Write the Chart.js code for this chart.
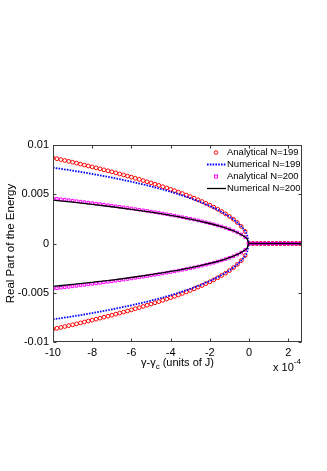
<!DOCTYPE html>
<html>
<head>
<meta charset="utf-8">
<script src="https://cdn.jsdelivr.net/npm/chart.js@4.4.0/dist/chart.umd.min.js"></script>
<style>
  html, body { margin: 0; padding: 0; background: #fff; }
  canvas { display: block; }
</style>
</head>
<body>
<canvas id="chart" width="327" height="471"></canvas>
<script>
// x values (units of 1e-4 J) for the analytical markers
const xAnalytical = [-10, -9.8, -9.6, -9.4, -9.2, -9, -8.8, -8.6, -8.4, -8.2, -8, -7.8, -7.6, -7.4, -7.2, -7,
  -6.8, -6.6, -6.4, -6.2, -6, -5.8, -5.6, -5.4, -5.2, -5, -4.8, -4.6, -4.4, -4.2, -4, -3.8, -3.6, -3.4, -3.2, -3,
  -2.8, -2.6, -2.4, -2.2, -2, -1.8, -1.6, -1.4, -1.2, -1, -0.8, -0.6, -0.4, -0.2, 0,
  0.2, 0.4, 0.6, 0.8, 1, 1.2, 1.4, 1.6, 1.8, 2, 2.2, 2.4, 2.6];

const analytical199Upper = [0.00870, 0.00861, 0.00852, 0.00843, 0.00834, 0.00825, 0.00816, 0.00806, 0.00797, 0.00787,
  0.00778, 0.00768, 0.00758, 0.00748, 0.00738, 0.00728, 0.00717, 0.00706, 0.00696, 0.00685, 0.00674, 0.00662, 0.00651,
  0.00639, 0.00627, 0.00615, 0.00602, 0.00590, 0.00577, 0.00564, 0.00550, 0.00536, 0.00522, 0.00507, 0.00492, 0.00476,
  0.00460, 0.00443, 0.00426, 0.00408, 0.00389, 0.00369, 0.00348, 0.00325, 0.00301, 0.00275, 0.00246, 0.00213, 0.00174,
  0.00123, 0, 0, 0, 0, 0, 0, 0, 0, 0, 0, 0, 0, 0, 0];
const analytical199Lower = [-0.00870, -0.00861, -0.00852, -0.00843, -0.00834, -0.00825, -0.00816, -0.00806, -0.00797, -0.00787,
  -0.00778, -0.00768, -0.00758, -0.00748, -0.00738, -0.00728, -0.00717, -0.00706, -0.00696, -0.00685, -0.00674, -0.00662, -0.00651,
  -0.00639, -0.00627, -0.00615, -0.00602, -0.00590, -0.00577, -0.00564, -0.00550, -0.00536, -0.00522, -0.00507, -0.00492, -0.00476,
  -0.00460, -0.00443, -0.00426, -0.00408, -0.00389, -0.00369, -0.00348, -0.00325, -0.00301, -0.00275, -0.00246, -0.00213, -0.00174,
  -0.00123, 0, 0, 0, 0, 0, 0, 0, 0, 0, 0, 0, 0, 0, 0];

const analytical200Upper = [0.00459, 0.00454, 0.00449, 0.00445, 0.00440, 0.00435, 0.00430, 0.00425, 0.00420, 0.00415,
  0.00410, 0.00405, 0.00400, 0.00394, 0.00389, 0.00384, 0.00378, 0.00373, 0.00367, 0.00361, 0.00355, 0.00349, 0.00343,
  0.00337, 0.00331, 0.00324, 0.00318, 0.00311, 0.00304, 0.00297, 0.00290, 0.00283, 0.00275, 0.00267, 0.00259, 0.00251,
  0.00243, 0.00234, 0.00225, 0.00215, 0.00205, 0.00195, 0.00183, 0.00172, 0.00159, 0.00145, 0.00130, 0.00112, 0.00092,
  0.00065, 0, 0, 0, 0, 0, 0, 0, 0, 0, 0, 0, 0, 0, 0];
const analytical200Lower = [-0.00459, -0.00454, -0.00449, -0.00445, -0.00440, -0.00435, -0.00430, -0.00425, -0.00420, -0.00415,
  -0.00410, -0.00405, -0.00400, -0.00394, -0.00389, -0.00384, -0.00378, -0.00373, -0.00367, -0.00361, -0.00355, -0.00349, -0.00343,
  -0.00337, -0.00331, -0.00324, -0.00318, -0.00311, -0.00304, -0.00297, -0.00290, -0.00283, -0.00275, -0.00267, -0.00259, -0.00251,
  -0.00243, -0.00234, -0.00225, -0.00215, -0.00205, -0.00195, -0.00183, -0.00172, -0.00159, -0.00145, -0.00130, -0.00112, -0.00092,
  -0.00065, 0, 0, 0, 0, 0, 0, 0, 0, 0, 0, 0, 0, 0, 0];

// numerical curves, sampled more coarsely
const xNumerical = [-10, -9, -8, -7, -6, -5, -4, -3, -2, -1.5, -1, -0.6, -0.3, -0.1, 0, 2.7];
const numerical199Upper = [0.00770, 0.00740, 0.00706, 0.00669, 0.00627, 0.00580, 0.00525, 0.00460, 0.00380, 0.00331,
  0.00272, 0.00212, 0.00150, 0.00087, 0, 0];
const numerical199Lower = [-0.00770, -0.00740, -0.00706, -0.00669, -0.00627, -0.00580, -0.00525, -0.00460, -0.00380, -0.00331,
  -0.00272, -0.00212, -0.00150, -0.00087, 0, 0];
const numerical200Upper = [0.00440, 0.00419, 0.00397, 0.00373, 0.00347, 0.00318, 0.00285, 0.00248, 0.00203, 0.00177,
  0.00144, 0.00112, 0.00079, 0.00046, 0, 0];
const numerical200Lower = [-0.00435, -0.00416, -0.00394, -0.00371, -0.00345, -0.00316, -0.00284, -0.00247, -0.00202, -0.00176,
  -0.00143, -0.00111, -0.00079, -0.00046, 0, 0];

const xTicks = [-10, -8, -6, -4, -2, 0, 2];
const yTicks = [-0.01, -0.005, 0, 0.005, 0.01];
const seriesNames = ['Analytical N=199', 'Numerical N=199', 'Analytical N=200', 'Numerical N=200'];

const FONT = '"Liberation Sans", Arial, sans-serif';

function pairs(xs, ys) {
  return xs.map((x, i) => ({ x: x, y: ys[i] }));
}

// both branches in one line, broken by a gap point
function branches(xs, up, low) {
  return pairs(xs, up).concat([{ x: 0, y: null }], pairs(xs, low));
}

// draws the box, inward ticks, axis titles and the legend
const matlabLook = {
  id: 'matlabLook',
  afterDraw(chart) {
    const ctx = chart.ctx;
    const a = chart.chartArea;
    const xs = chart.scales.x;
    const ys = chart.scales.y;
    const L = Math.round(a.left) + 0.5, R = Math.round(a.right) - 0.5;
    const T = Math.round(a.top) + 0.5, B = Math.round(a.bottom) - 0.5;

    ctx.save();
    ctx.strokeStyle = '#3c3c3c';
    ctx.lineWidth = 1;
    ctx.strokeRect(L, T, R - L, B - T);
    ctx.beginPath();
    xTicks.forEach(v => {
      const px = Math.round(xs.getPixelForValue(v)) + 0.5;
      ctx.moveTo(px, B); ctx.lineTo(px, B - 3);
      ctx.moveTo(px, T); ctx.lineTo(px, T + 3);
    });
    yTicks.forEach(v => {
      const py = Math.round(ys.getPixelForValue(v)) + 0.5;
      ctx.moveTo(L, py); ctx.lineTo(L + 3, py);
      ctx.moveTo(R, py); ctx.lineTo(R - 3, py);
    });
    ctx.stroke();

    // y title
    ctx.fillStyle = '#000';
    ctx.font = '11.5px ' + FONT;
    ctx.textAlign = 'center';
    ctx.textBaseline = 'middle';
    ctx.save();
    ctx.translate(11, (a.top + a.bottom) / 2);
    ctx.rotate(-Math.PI / 2);
    ctx.fillText('Real Part of the Energy', 0, 0);
    ctx.restore();

    // x title with subscript
    const cx = (a.left + a.right) / 2;
    const p1 = '\u03b3-\u03b3', sub = 'c', p2 = ' (units of J)';
    ctx.font = '11px ' + FONT;
    const w1 = ctx.measureText(p1).width, w3 = ctx.measureText(p2).width;
    ctx.font = '8px ' + FONT;
    const w2 = ctx.measureText(sub).width;
    let x0 = cx - (w1 + w2 + w3) / 2;
    ctx.textAlign = 'left';
    ctx.font = '11px ' + FONT;
    ctx.fillText(p1, x0, 363);
    ctx.font = '8px ' + FONT;
    ctx.fillText(sub, x0 + w1, 367);
    ctx.font = '11px ' + FONT;
    ctx.fillText(p2, x0 + w1 + w2, 363);

    // exponent label
    ctx.fillText('x 10', 273, 368);
    const wx = ctx.measureText('x 10').width;
    ctx.font = '8px ' + FONT;
    ctx.fillText('-4', 273 + wx, 362);

    // legend
    const lx = 207, tx = 227;
    const rows = [152.5, 164.5, 176.5, 188.5];
    ctx.font = '9.5px ' + FONT;
    ctx.textBaseline = 'middle';
    rows.forEach((y, i) => {
      ctx.fillStyle = '#000';
      ctx.fillText(seriesNames[i], tx, y);
    });
    // red circle
    ctx.strokeStyle = '#ff0000';
    ctx.beginPath();
    ctx.arc(216, rows[0], 1.8, 0, Math.PI * 2);
    ctx.stroke();
    // blue dotted
    ctx.strokeStyle = '#0000ff';
    ctx.lineWidth = 1.8;
    ctx.setLineDash([1.6, 1.2]);
    ctx.beginPath();
    ctx.moveTo(lx, rows[1]); ctx.lineTo(tx - 1, rows[1]);
    ctx.stroke();
    ctx.setLineDash([]);
    // magenta square
    ctx.strokeStyle = '#ff00ff';
    ctx.lineWidth = 1;
    ctx.strokeRect(214.5, rows[2] - 1.5, 3, 3);
    // black line
    ctx.strokeStyle = '#000';
    ctx.lineWidth = 1.3;
    ctx.beginPath();
    ctx.moveTo(lx, rows[3]); ctx.lineTo(tx - 1, rows[3]);
    ctx.stroke();
    ctx.restore();
  }
};

new Chart(document.getElementById('chart'), {
  type: 'scatter',
  data: {
    datasets: [
      {
        label: seriesNames[3],
        data: branches(xNumerical, numerical200Upper, numerical200Lower),
        showLine: true,
        borderColor: '#000',
        borderWidth: 1.3,
        pointRadius: 0,
        cubicInterpolationMode: 'monotone',
        spanGaps: false,
        order: 0
      },
      {
        label: seriesNames[2],
        data: pairs(xAnalytical, analytical200Upper).concat(pairs(xAnalytical, analytical200Lower)),
        pointStyle: 'rect',
        pointRadius: 1.8,
        borderWidth: 1,
        borderColor: '#ff00ff',
        backgroundColor: 'rgba(0,0,0,0)',
        order: 1
      },
      {
        label: seriesNames[1],
        data: branches(xNumerical, numerical199Upper, numerical199Lower),
        showLine: true,
        borderColor: '#0000ff',
        borderWidth: 1.8,
        borderDash: [1.6, 1.2],
        pointRadius: 0,
        cubicInterpolationMode: 'monotone',
        spanGaps: false,
        order: 2
      },
      {
        label: seriesNames[0],
        data: pairs(xAnalytical, analytical199Upper).concat(pairs(xAnalytical, analytical199Lower)),
        pointStyle: 'circle',
        pointRadius: 1.9,
        borderWidth: 1,
        borderColor: '#ff0000',
        backgroundColor: 'rgba(0,0,0,0)',
        order: 3
      }
    ]
  },
  options: {
    responsive: false,
    animation: false,
    layout: { padding: { top: 145, right: 25, left: 0, bottom: 0 } },
    plugins: { legend: { display: false }, tooltip: { enabled: false } },
    scales: {
      x: {
        type: 'linear',
        min: -10,
        max: 2.7,
        afterBuildTicks: s => { s.ticks = xTicks.map(v => ({ value: v })); },
        afterFit: s => { s.height = 129; },
        grid: { drawOnChartArea: false, drawTicks: false },
        border: { display: false },
        ticks: {
          font: { family: FONT, size: 11 },
          color: '#000',
          padding: 4,
          maxRotation: 0,
          callback: v => String(v)
        }
      },
      y: {
        type: 'linear',
        min: -0.01,
        max: 0.01,
        afterBuildTicks: s => { s.ticks = yTicks.map(v => ({ value: v })); },
        afterFit: s => { s.width = 53; },
        grid: { drawOnChartArea: false, drawTicks: false },
        border: { display: false },
        ticks: {
          font: { family: FONT, size: 11 },
          color: '#000',
          padding: 4,
          callback: v => String(v)
        }
      }
    }
  },
  plugins: [matlabLook]
});
</script>
</body>
</html>
